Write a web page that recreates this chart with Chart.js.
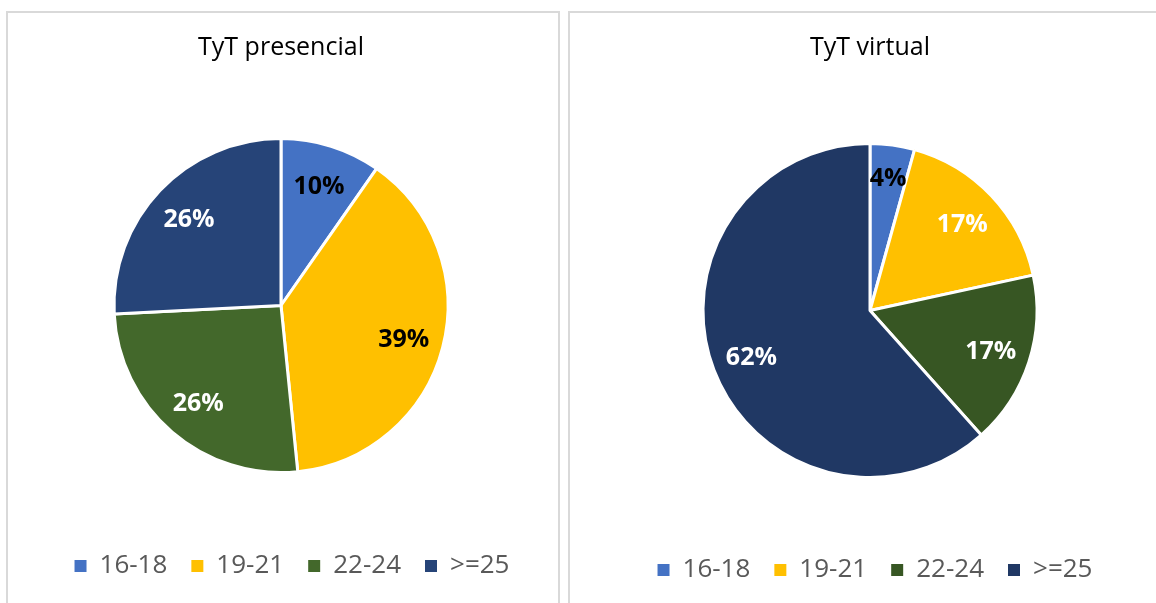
<!DOCTYPE html>
<html>
<head>
<meta charset="utf-8">
<script src="https://cdn.jsdelivr.net/npm/chart.js@4.4.1/dist/chart.umd.min.js"></script>
<style>
  html, body { margin: 0; padding: 0; background: #fff; overflow: hidden; width: 1156px; height: 603px; }
  .panel { position: absolute; border: 2px solid #d9d9d9; border-bottom: none; background: #fff; }
  #p1 { left: 6px; top: 11px; width: 550px; height: 600px; }
  #p2 { left: 568px; top: 11px; width: 600px; height: 600px; }
  canvas { display: block; }
</style>
</head>
<body>
<div class="panel" id="p1"><canvas id="presencial" width="550" height="600"></canvas></div>
<div class="panel" id="p2"><canvas id="virtual" width="600" height="600"></canvas></div>
<script>
const categories = ['16-18', '19-21', '22-24', '>=25'];
const presencialValues = [9.7, 38.7, 25.8, 25.8];
const virtualValues = [4.3, 17.3, 16.8, 61.6];
const presencialColors = ['#4472C4', '#FFC000', '#43682B', '#264478'];
const virtualColors = ['#4472C4', '#FFC000', '#375623', '#203864'];
const presencialLabelColors = ['#000000', '#000000', '#ffffff', '#ffffff'];
const virtualLabelColors = ['#000000', '#ffffff', '#ffffff', '#ffffff'];

const FONT = '"Open Sans", "Noto Sans", sans-serif';

// percent labels inside the slices
const sliceLabels = {
    id: 'sliceLabels',
    afterDatasetsDraw(chart, args, opts) {
        const ctx = chart.ctx;
        const meta = chart.getDatasetMeta(0);
        const values = chart.data.datasets[0].data;
        ctx.save();
        ctx.font = 'bold 25px ' + FONT;
        ctx.textAlign = 'center';
        ctx.textBaseline = 'middle';
        meta.data.forEach((arc, i) => {
            const p = arc.getProps(['x', 'y', 'startAngle', 'endAngle', 'outerRadius'], true);
            const mid = (p.startAngle + p.endAngle) / 2;
            // thin slices push their label further out
            const r = p.outerRadius * (values[i] < 6 ? 0.81 : 0.76);
            ctx.fillStyle = opts.colors[i];
            ctx.fillText(Math.round(values[i]) + '%', p.x + Math.cos(mid) * r, p.y + Math.sin(mid) * r + 2);
        });
        ctx.restore();
    }
};

// nudge the legend sideways without moving the pie
const legendShift = {
    id: 'legendShift',
    afterLayout(chart, args, opts) {
        if (chart.legend && opts.dx) {
            chart.legend.left += opts.dx;
            chart.legend.right += opts.dx;
        }
    }
};

function makePie(id, title, values, colors, labelColors, pad, titlePadBottom, dx) {
    return new Chart(document.getElementById(id), {
        type: 'pie',
        data: {
            labels: categories,
            datasets: [{
                data: values,
                backgroundColor: colors,
                borderColor: '#ffffff',
                borderWidth: 3,
                radius: 167
            }]
        },
        plugins: [sliceLabels, legendShift],
        options: {
            responsive: false,
            animation: false,
            layout: { padding: pad },
            plugins: {
                title: {
                    display: true,
                    text: title,
                    color: '#000000',
                    font: { family: FONT, size: 25, weight: 'normal' },
                    padding: { top: 20, bottom: titlePadBottom }
                },
                legend: {
                    position: 'bottom',
                    labels: {
                        color: '#595959',
                        font: { family: FONT, size: 26 },
                        boxWidth: 12,
                        boxHeight: 12,
                        padding: 24,
                        generateLabels(chart) {
                            const base = Chart.overrides.pie.plugins.legend.labels.generateLabels(chart);
                            return base.map(item => Object.assign(item, { lineWidth: 0 }));
                        }
                    }
                },
                tooltip: { enabled: false },
                sliceLabels: { colors: labelColors },
                legendShift: { dx: dx }
            }
        }
    });
}

makePie('presencial', 'TyT presencial', presencialValues, presencialColors, presencialLabelColors,
    { left: 0, right: 4, top: 0, bottom: 24 }, 19, 11);
makePie('virtual', 'TyT virtual', virtualValues, virtualColors, virtualLabelColors,
    { left: 0, right: 0, top: 0, bottom: 20 }, 25, 5);
</script>
</body>
</html>
